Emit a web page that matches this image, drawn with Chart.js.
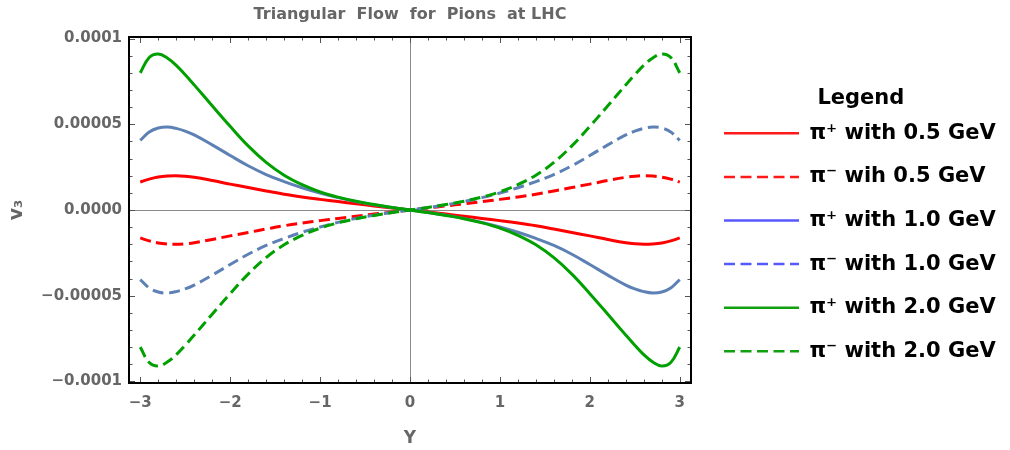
<!DOCTYPE html>
<html>
<head>
<meta charset="utf-8">
<script src="https://cdn.jsdelivr.net/npm/chart.js@4.4.1/dist/chart.umd.min.js"></script>
<style>
html,body{margin:0;padding:0;background:#ffffff;}
canvas{display:block;}
</style>
</head>
<body>
<canvas id="c" width="1010" height="450"></canvas>
<script>
// ---------- data ----------
const rapidity = [-3,-2.9,-2.8,-2.7,-2.6,-2.5,-2.4,-2.2,-2,-1.8,-1.6,-1.4,-1.2,-1,-0.8,-0.6,-0.4,-0.2,0,
                  0.2,0.4,0.6,0.8,1,1.2,1.4,1.6,1.8,2,2.2,2.4,2.5,2.6,2.7,2.8,2.9,3];

const piPlus05  = [1.63e-5,1.80e-5,1.92e-5,1.98e-5,2.00e-5,1.97e-5,1.91e-5,1.72e-5,1.51e-5,1.31e-5,1.11e-5,0.92e-5,0.76e-5,0.62e-5,0.49e-5,0.36e-5,0.24e-5,0.12e-5,0,
                   -0.12e-5,-0.24e-5,-0.36e-5,-0.49e-5,-0.62e-5,-0.76e-5,-0.92e-5,-1.11e-5,-1.31e-5,-1.51e-5,-1.72e-5,-1.91e-5,-1.97e-5,-2.00e-5,-1.98e-5,-1.92e-5,-1.80e-5,-1.63e-5];
const piMinus05 = [-1.63e-5,-1.80e-5,-1.92e-5,-1.98e-5,-2.00e-5,-1.97e-5,-1.91e-5,-1.72e-5,-1.51e-5,-1.31e-5,-1.11e-5,-0.92e-5,-0.76e-5,-0.62e-5,-0.49e-5,-0.36e-5,-0.24e-5,-0.12e-5,0,
                   0.12e-5,0.24e-5,0.36e-5,0.49e-5,0.62e-5,0.76e-5,0.92e-5,1.11e-5,1.31e-5,1.51e-5,1.72e-5,1.91e-5,1.97e-5,2.00e-5,1.98e-5,1.92e-5,1.80e-5,1.63e-5];
const piPlus10  = [4.06e-5,4.55e-5,4.78e-5,4.84e-5,4.76e-5,4.60e-5,4.38e-5,3.80e-5,3.18e-5,2.58e-5,2.07e-5,1.66e-5,1.30e-5,0.99e-5,0.72e-5,0.49e-5,0.30e-5,0.14e-5,0,
                   -0.14e-5,-0.30e-5,-0.49e-5,-0.72e-5,-0.99e-5,-1.30e-5,-1.66e-5,-2.07e-5,-2.58e-5,-3.18e-5,-3.80e-5,-4.38e-5,-4.60e-5,-4.76e-5,-4.84e-5,-4.78e-5,-4.55e-5,-4.06e-5];
const piMinus10 = [-4.06e-5,-4.55e-5,-4.78e-5,-4.84e-5,-4.76e-5,-4.60e-5,-4.38e-5,-3.80e-5,-3.18e-5,-2.58e-5,-2.07e-5,-1.66e-5,-1.30e-5,-0.99e-5,-0.72e-5,-0.49e-5,-0.30e-5,-0.14e-5,0,
                   0.14e-5,0.30e-5,0.49e-5,0.72e-5,0.99e-5,1.30e-5,1.66e-5,2.07e-5,2.58e-5,3.18e-5,3.80e-5,4.38e-5,4.60e-5,4.76e-5,4.84e-5,4.78e-5,4.55e-5,4.06e-5];
const piPlus20  = [8.00e-5,8.90e-5,9.10e-5,8.87e-5,8.44e-5,7.89e-5,7.30e-5,6.08e-5,4.88e-5,3.74e-5,2.78e-5,2.03e-5,1.48e-5,1.06e-5,0.75e-5,0.51e-5,0.32e-5,0.15e-5,0,
                   -0.15e-5,-0.32e-5,-0.51e-5,-0.75e-5,-1.06e-5,-1.48e-5,-2.03e-5,-2.78e-5,-3.74e-5,-4.88e-5,-6.08e-5,-7.30e-5,-7.89e-5,-8.44e-5,-8.87e-5,-9.10e-5,-8.90e-5,-8.00e-5];
const piMinus20 = [-8.00e-5,-8.90e-5,-9.10e-5,-8.87e-5,-8.44e-5,-7.89e-5,-7.30e-5,-6.08e-5,-4.88e-5,-3.74e-5,-2.78e-5,-2.03e-5,-1.48e-5,-1.06e-5,-0.75e-5,-0.51e-5,-0.32e-5,-0.15e-5,0,
                   0.15e-5,0.32e-5,0.51e-5,0.75e-5,1.06e-5,1.48e-5,2.03e-5,2.78e-5,3.74e-5,4.88e-5,6.08e-5,7.30e-5,7.89e-5,8.44e-5,8.87e-5,9.10e-5,8.90e-5,8.00e-5];

const seriesLabels = ['π⁺ with 0.5 GeV','π⁻ wih 0.5 GeV','π⁺ with 1.0 GeV','π⁻ with 1.0 GeV','π⁺ with 2.0 GeV','π⁻ with 2.0 GeV'];
const xTickValues = [-3,-2,-1,0,1,2,3];
const xTickLabels = ['−3','−2','−1','0','1','2','3'];
const yTickValues = [-0.0001,-0.00005,0,0.00005,0.0001];
const yTickLabels = ['−0.0001','−0.00005','0.0000','0.00005','0.0001'];
const chartTitle = 'Triangular  Flow  for  Pions  at LHC';
const xTitle = 'Y';
const yTitle = 'v₃';
const legendTitle = 'Legend';

// ---------- styling ----------
const FAMILY = '"DejaVu Sans", "Liberation Sans", sans-serif';
const GRAY = '#666666';
const plotColors   = ['#ff0000','#ff0000','#5e81b5','#5e81b5','#00a000','#00a000'];
const legendColors = ['#ff1a1a','#ff1a1a','#5858ff','#5858ff','#10a010','#10a010'];
const DASH = [11, 5.5];
const dashes = [[],DASH,[],DASH,[],DASH];
const drawOrder = [6,5,4,3,2,1];
const seriesValues = [piPlus05, piMinus05, piPlus10, piMinus10, piPlus20, piMinus20];

const LEG_FONT = 21, LEG_PAD = 22.6, LEG_BOX = 75;
const PLOT_RIGHT = 691;
const LEGEND_LINE_X = 724;             // where legend line samples start
const legendLeft = LEGEND_LINE_X - LEG_PAD;

// the legend measures its own width; we only pick the right padding so its left edge lands at legendLeft
const mctx = document.createElement('canvas').getContext('2d');
mctx.font = 'bold ' + LEG_FONT + 'px ' + FAMILY;
const maxLabelW = Math.max(...seriesLabels.map(t => mctx.measureText(t).width));
const legendWidthEst = LEG_PAD + LEG_BOX + LEG_FONT / 2 + maxLabelW + 10;

const frameTicks = {
  id: 'frameTicks',
  afterDatasetsDraw(chart) {
    const {ctx, chartArea: a, scales: {x, y}} = chart;
    ctx.save();
    ctx.strokeStyle = '#555555';
    ctx.lineWidth = 1;
    ctx.beginPath();
    for (let k = -15; k <= 15; k++) {
      const px = Math.round(x.getPixelForValue(k / 5)) + 0.5;
      const len = (k % 5 === 0) ? 6 : 3.5;
      ctx.moveTo(px, a.bottom); ctx.lineTo(px, a.bottom - len);
      ctx.moveTo(px, a.top); ctx.lineTo(px, a.top + len);
    }
    for (let k = -10; k <= 10; k++) {
      const py = Math.round(y.getPixelForValue(k * 1e-5)) + 0.5;
      const len = (k % 5 === 0) ? 6 : 3.5;
      ctx.moveTo(a.left, py); ctx.lineTo(a.left + len, py);
      ctx.moveTo(a.right, py); ctx.lineTo(a.right - len, py);
    }
    ctx.stroke();
    ctx.strokeStyle = '#000000';
    ctx.lineWidth = 2;
    ctx.strokeRect(a.left, a.top, a.right - a.left, a.bottom - a.top);
    ctx.restore();
  }
};

// adjust right padding after the legend has measured itself, so the legend sits exactly where wanted
const legendPlacer = {
  id: 'legendPlacer',
  afterLayout(chart) {
    const lg = chart.legend;
    if (!lg || chart.$placed) return;
    const wanted = legendLeft;
    const diff = lg.left - wanted;
    if (Math.abs(diff) > 0.5) {
      chart.$placed = true;
      chart.options.layout.padding.right = Math.max(0, chart.options.layout.padding.right + diff);
      chart.update('none');
    }
  }
};

const datasets = seriesLabels.map((lab, i) => ({
  label: lab,
  data: rapidity.map((r, j) => ({x: r, y: seriesValues[i][j]})),
  borderColor: plotColors[i],
  backgroundColor: plotColors[i],
  borderWidth: 3,
  borderDash: dashes[i],
  pointRadius: 0,
  fill: false,
  tension: 0.4,
  order: drawOrder[i]
}));

new Chart(document.getElementById('c'), {
  type: 'line',
  data: {datasets},
  plugins: [frameTicks, legendPlacer],
  options: {
    responsive: false,
    animation: false,
    devicePixelRatio: 1,
    layout: {padding: {left: 0, right: Math.max(0, 1010 - legendLeft - legendWidthEst), top: 0, bottom: 0}},
    plugins: {
      tooltip: {enabled: false},
      title: {
        display: true, text: chartTitle, color: GRAY, fullSize: false,
        font: {family: FAMILY, size: 16, weight: 'bold'},
        padding: {top: 5, bottom: 12.8}
      },
      legend: {
        display: true, position: 'right', align: 'start',
        maxWidth: 500,
        title: {
          display: true, text: '  ' + legendTitle, color: '#000000',
          font: {family: FAMILY, size: LEG_FONT, weight: 'bold', lineHeight: 1},
          padding: {top: 88.5, bottom: -9.3}
        },
        labels: {
          usePointStyle: true, pointStyleWidth: LEG_BOX, padding: LEG_PAD,
          color: '#000000',
          font: {family: FAMILY, size: LEG_FONT, weight: 'bold'},
          generateLabels: () => seriesLabels.map((t, i) => ({
            text: t, fillStyle: legendColors[i], strokeStyle: legendColors[i],
            lineWidth: 2.5, lineDash: dashes[i], pointStyle: 'line',
            hidden: false, datasetIndex: i, fontColor: '#000000'
          }))
        }
      }
    },
    scales: {
      x: {
        type: 'linear', min: -3.125, max: 3.125,
        afterBuildTicks: s => { s.ticks = xTickValues.map(v => ({value: v})); },
        afterFit: s => { s.height = 67; },
        ticks: {
          callback: (v, i) => xTickLabels[i],
          color: GRAY, font: {family: FAMILY, size: 15, weight: 'bold'},
          padding: 11, maxRotation: 0, autoSkip: false
        },
        grid: {
          drawTicks: false,
          color: c => (c.tick && c.tick.value === 0) ? '#8a8a8a' : 'rgba(0,0,0,0)',
          lineWidth: 1
        },
        border: {display: false},
        title: {
          display: true, text: xTitle, color: GRAY,
          font: {family: FAMILY, size: 17, weight: 'bold'},
          padding: {top: 0, bottom: 1.5}
        }
      },
      y: {
        type: 'linear', position: 'left', min: -1.0093e-4, max: 1.0093e-4,
        afterBuildTicks: s => { s.ticks = yTickValues.map(v => ({value: v})); },
        afterFit: s => { s.width = 129; },
        ticks: {
          callback: (v, i) => yTickLabels[i],
          color: GRAY, font: {family: FAMILY, size: 15, weight: 'bold'},
          padding: 7, autoSkip: false
        },
        grid: {
          drawTicks: false,
          color: c => (c.tick && c.tick.value === 0) ? '#8a8a8a' : 'rgba(0,0,0,0)',
          lineWidth: 1
        },
        border: {display: false},
        title: {
          display: true, text: yTitle, color: GRAY,
          font: {family: FAMILY, size: 19, weight: 'bold'},
          padding: {top: 6, bottom: 0}
        }
      },
      y2: {
        type: 'linear', position: 'right', display: true,
        afterFit: s => { s.width = legendLeft - PLOT_RIGHT; },
        ticks: {display: false},
        grid: {display: false, drawTicks: false},
        border: {display: false}
      }
    }
  }
});
</script>
</body>
</html>
